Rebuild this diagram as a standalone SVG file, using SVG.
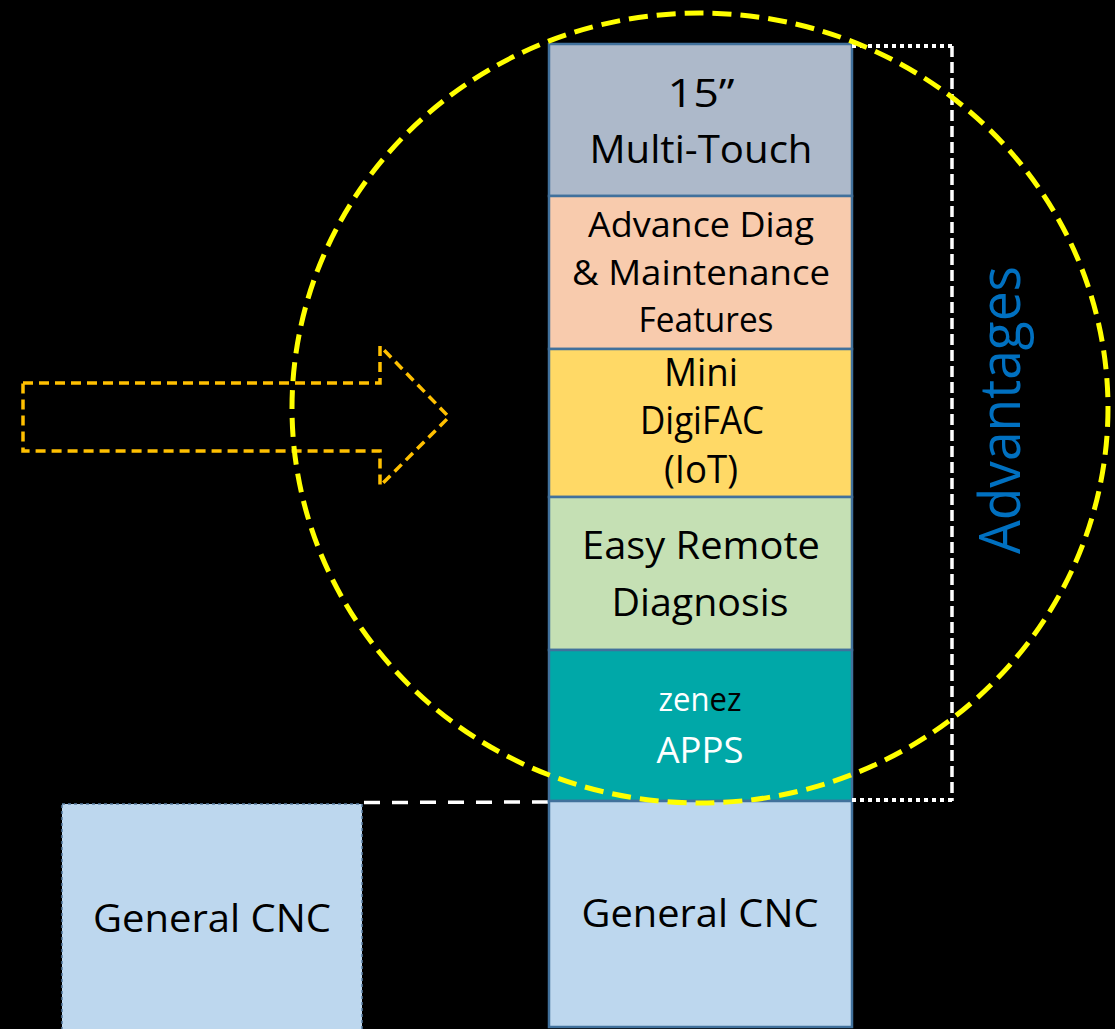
<svg xmlns="http://www.w3.org/2000/svg" width="1115" height="1029" viewBox="0 0 1115 1029">
  <style>
    .blk { stroke: #41719C; stroke-width: 2.5; }
    .t { font-family: "Open Sans", "Noto Sans", "Liberation Sans", sans-serif; font-size: 39px; fill: #000; text-anchor: middle; }
    .w { fill: #FFFFFF; }
  </style>
  <rect x="0" y="0" width="1115" height="1029" fill="#000000"/>

  <g id="connectors">
    <path id="arrow" d="M23,383 H380 V346 L449,417 L380,486 V451 H23 Z" fill="none" stroke="#FFC000" stroke-width="3.5" stroke-dasharray="10,6" stroke-linejoin="miter"/>
    <line id="link-general" x1="364" y1="802.5" x2="549" y2="802" stroke="#FFFFFF" stroke-width="3.5" stroke-dasharray="16,12"/>
  </g>

  <g id="node-touch">
    <rect class="blk" x="549" y="44" width="303" height="152" fill="#ADB9CA"/>
    <text class="t" x="701" y="107" textLength="67" lengthAdjust="spacingAndGlyphs">15”</text>
    <text class="t" x="701" y="163" textLength="223" lengthAdjust="spacingAndGlyphs">Multi-Touch</text>
  </g>
  <g id="node-diag">
    <rect class="blk" x="549" y="196" width="303" height="153" fill="#F8CBAD"/>
    <text class="t" x="701" y="237" style="font-size:35px" textLength="226" lengthAdjust="spacingAndGlyphs">Advance Diag</text>
    <text class="t" x="701" y="285" style="font-size:35px" textLength="258" lengthAdjust="spacingAndGlyphs">&amp; Maintenance</text>
    <text class="t" x="706" y="332" style="font-size:35px" textLength="135" lengthAdjust="spacingAndGlyphs">Features</text>
  </g>
  <g id="node-digifac">
    <rect class="blk" x="549" y="349" width="303" height="148" fill="#FFD966"/>
    <text class="t" x="701" y="386" textLength="74" lengthAdjust="spacingAndGlyphs">Mini</text>
    <text class="t" x="702" y="434" textLength="124" lengthAdjust="spacingAndGlyphs">DigiFAC</text>
    <text class="t" x="701" y="483" textLength="74" lengthAdjust="spacingAndGlyphs">(IoT)</text>
  </g>
  <g id="node-remote">
    <rect class="blk" x="549" y="497" width="303" height="153" fill="#C5E0B4"/>
    <text class="t" x="701" y="559" textLength="238" lengthAdjust="spacingAndGlyphs">Easy Remote</text>
    <text class="t" x="700" y="616" textLength="177" lengthAdjust="spacingAndGlyphs">Diagnosis</text>
  </g>
  <g id="node-apps">
    <rect class="blk" x="549" y="650" width="303" height="151" fill="#00A8A8"/>
    <text class="t" x="700" y="711" style="font-size:32px" textLength="83" lengthAdjust="spacingAndGlyphs"><tspan class="w">zen</tspan><tspan>ez</tspan></text>
    <text class="t w" x="700" y="763" style="font-size:37px" textLength="87" lengthAdjust="spacingAndGlyphs">APPS</text>
  </g>
  <g id="node-general-cnc">
    <rect class="blk" x="549" y="801" width="303" height="226" fill="#BDD7EE"/>
    <text class="t" x="700" y="927" textLength="237" lengthAdjust="spacingAndGlyphs">General CNC</text>
  </g>
  <g id="node-general-cnc-left">
    <rect x="62" y="804" width="300" height="230" fill="#BDD7EE" stroke="#5B7FA3" stroke-width="1.5" stroke-dasharray="3,3"/>
    <text class="t" x="212" y="932" textLength="238" lengthAdjust="spacingAndGlyphs">General CNC</text>
  </g>

  <g id="bracket">
    <path d="M852,46 H952" fill="none" stroke="#FFFFFF" stroke-width="4" stroke-dasharray="4,4"/>
    <path d="M952,46 V801" fill="none" stroke="#FFFFFF" stroke-width="3.5" stroke-dasharray="11,5"/>
    <path d="M952,800 H852" fill="none" stroke="#FFFFFF" stroke-width="4" stroke-dasharray="4,4"/>
  </g>

  <g id="advantages">
    <text transform="translate(1020,410) rotate(-90)" x="0" y="0" font-family="'Open Sans', 'Noto Sans', sans-serif" font-size="57" fill="#0070C0" text-anchor="middle" textLength="288" lengthAdjust="spacingAndGlyphs">Advantages</text>
  </g>

  <ellipse id="focus" cx="700" cy="408" rx="408" ry="395" fill="none" stroke="#FFFF00" stroke-width="5" stroke-dasharray="19,9"/>
</svg>
